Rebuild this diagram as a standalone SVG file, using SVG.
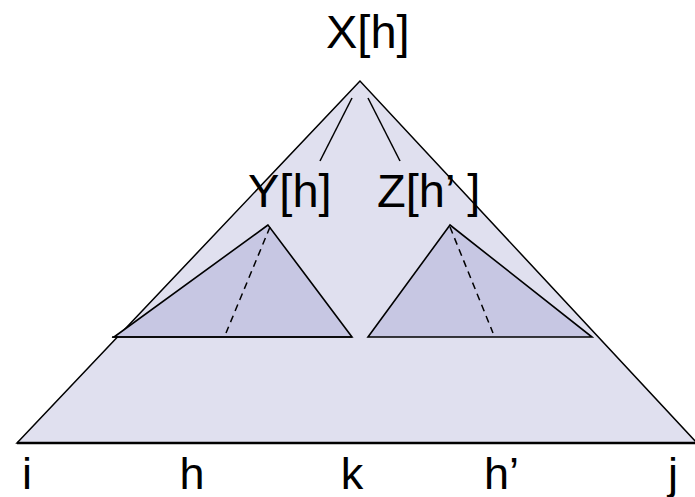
<svg xmlns="http://www.w3.org/2000/svg" width="695" height="497" viewBox="0 0 695 497">
<style>
.lbl{font-family:"Liberation Sans",Arial,sans-serif;font-size:45px;fill:#000}
.node{font-size:47px}
.edge{stroke:#000;stroke-width:1.5;fill:none}
.dash{stroke:#000;stroke-width:1.5;fill:none;stroke-dasharray:7,5}
</style>
<rect width="695" height="497" fill="#fff"/>
<g id="outer">
<polygon points="360,81 17,443 697,443" fill="#e0e0ef" stroke="#000" stroke-width="1.5"/>
<line x1="17" y1="443" x2="697" y2="443" stroke="#000" stroke-width="2.5"/>
</g>
<g id="left-sub">
<polygon points="268,225 114,337 352,337" fill="#c7c7e3" stroke="#000" stroke-width="1.6"/>
<line x1="112" y1="337" x2="352" y2="337" class="edge"/>
<line x1="270" y1="227" x2="226" y2="333" class="dash"/>
</g>
<g id="right-sub">
<polygon points="450,225 368,337 592,337" fill="#c7c7e3" stroke="#000" stroke-width="1.6"/>
<line x1="450" y1="227" x2="493" y2="333" class="dash"/>
</g>
<g id="connectors">
<line x1="352" y1="98" x2="320" y2="161" class="edge"/>
<line x1="368" y1="98" x2="400" y2="161" class="edge"/>
</g>
<g id="node-X"><text class="lbl node" x="326" y="48">X[h]</text></g>
<g id="node-Y"><text class="lbl node" x="248" y="207">Y[h]</text></g>
<g id="node-Z"><text class="lbl node" x="377" y="207">Z[h’<tspan dx="12">]</tspan></text></g>
<g id="labels">
<text class="lbl" x="27" y="489" text-anchor="middle">i</text>
<text class="lbl" x="192" y="489" text-anchor="middle">h</text>
<text class="lbl" x="352" y="489" text-anchor="middle">k</text>
<text class="lbl" x="484" y="489">h’</text>
<text class="lbl" x="673" y="489" text-anchor="middle">j</text>
</g>
</svg>
